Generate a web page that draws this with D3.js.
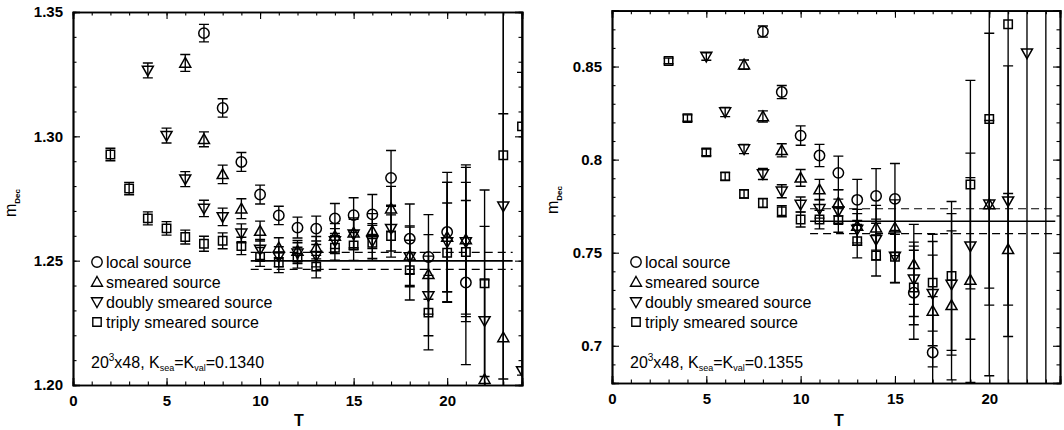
<!DOCTYPE html>
<html><head><meta charset="utf-8">
<script src="https://cdn.jsdelivr.net/npm/d3@7"></script>
<style>body{margin:0;background:#fff}svg{display:block}</style>
</head><body>
<svg id="c" width="1064" height="430"></svg>
<script>
// ---------- data: left panel (K=0.1340) ----------
const L_localT = [7,8,9,10,11,12,13,14,15,16,17,18,19,20,21];
const L_localM = [1.3415,1.3114,1.2897,1.2766,1.2682,1.2633,1.2629,1.2670,1.2683,1.2686,1.2833,1.2588,1.2515,1.2615,1.2412];
const L_localE = [0.0035,0.0037,0.0038,0.0038,0.0037,0.0042,0.0050,0.0060,0.0070,0.0080,0.0110,0.0140,0.0170,0.0240,0.0330];

const L_smearT = [6,7,8,9,10,11,12,13,14,15,16,17,18,19,20,21,22,23];
const L_smearM = [1.3295,1.2988,1.2847,1.2709,1.2619,1.2552,1.2539,1.2552,1.2599,1.2612,1.2619,1.2709,1.2520,1.2445,1.2595,1.2585,1.2023,1.2191];
const L_smearE = [0.0034,0.0030,0.0037,0.0040,0.0040,0.0040,0.0042,0.0045,0.0050,0.0060,0.0070,0.0090,0.0120,0.0160,0.0220,0.0300,0.0400,0.0900];

const L_doubleT = [4,5,6,7,8,9,10,11,12,13,14,15,16,17,18,19,20,21,22,23,24];
const L_doubleM = [1.3265,1.3003,1.2828,1.2710,1.2676,1.2610,1.2545,1.2516,1.2530,1.2520,1.2579,1.2606,1.2579,1.2629,1.2515,1.2358,1.2575,1.2575,1.2258,1.2719,1.2057];
const L_doubleE = [0.0030,0.0030,0.0030,0.0033,0.0035,0.0038,0.0040,0.0040,0.0042,0.0045,0.0050,0.0060,0.0070,0.0090,0.0120,0.0160,0.0240,0.0300,0.0380,0.0800,0.1200];

const L_tripleT = [2,3,4,5,6,7,8,9,10,11,12,13,14,15,16,17,18,19,20,21,22,23,24];
const L_tripleM = [1.2927,1.2790,1.2670,1.2630,1.2595,1.2568,1.2580,1.2559,1.2515,1.2492,1.2512,1.2476,1.2552,1.2561,1.2572,1.2599,1.2462,1.2291,1.2532,1.2535,1.2409,1.2924,1.3040];
const L_tripleE = [0.0025,0.0025,0.0026,0.0027,0.0028,0.0030,0.0032,0.0035,0.0038,0.0040,0.0042,0.0045,0.0050,0.0060,0.0070,0.0085,0.0120,0.0150,0.0200,0.0280,0.0375,0.0900,0.1000];

const L_fit = [1.2499, 0.0034];      // central value, error
const L_fitRange = [9.5, 23.5];

// ---------- data: right panel (K=0.1355) ----------
const R_localT = [8,9,10,11,12,13,14,15,16,17];
const R_localM = [0.8688,0.8363,0.8129,0.8022,0.7929,0.7784,0.7805,0.7789,0.7285,0.6964];
const R_localE = [0.0030,0.0035,0.0052,0.0060,0.0090,0.0110,0.0147,0.0190,0.0250,0.0300];

const R_smearT = [7,8,9,10,11,12,13,14,15,16,17,18,19,20,21];
const R_smearM = [0.8510,0.8232,0.8050,0.7902,0.7839,0.7768,0.7643,0.7634,0.7634,0.7437,0.7187,0.7217,0.7353,0.7759,0.7518];
const R_smearE = [0.0025,0.0030,0.0035,0.0045,0.0055,0.0070,0.0090,0.0120,0.0150,0.0215,0.0300,0.0400,0.0550,0.0920,0.0300];

const R_doubleT = [5,6,7,8,9,10,11,12,13,14,15,16,17,18,19,20,21,22];
const R_doubleM = [0.8554,0.8256,0.8057,0.7923,0.7830,0.7759,0.7736,0.7723,0.7625,0.7570,0.7480,0.7357,0.7280,0.7330,0.7535,0.7760,0.7777,0.8572];
const R_doubleE = [0.0020,0.0025,0.0025,0.0030,0.0035,0.0040,0.0050,0.0065,0.0085,0.0110,0.0140,0.0200,0.0280,0.0380,0.0500,0.0450,0.0727,0.2000];

const R_tripleT = [3,4,5,6,7,8,9,10,11,12,13,14,15,16,17,18,19,20,21,23];
const R_tripleM = [0.8530,0.8223,0.8039,0.7910,0.7816,0.7767,0.7723,0.7678,0.7678,0.7675,0.7562,0.7485,0.7478,0.7313,0.7339,0.7375,0.7866,0.8218,0.8727,0.9200];
const R_tripleE = [0.0015,0.0017,0.0018,0.0020,0.0022,0.0025,0.0030,0.0040,0.0050,0.0065,0.0090,0.0110,0.0140,0.0200,0.0260,0.0400,0.0560,0.1000,0.2000,0.3000];

const R_fit = [0.7669, 0.0067];
const R_fitRange = [10.5, 23.5];

// ---------- ticks / labels ----------
const xTicks = [0,5,10,15,20];
const xTickLabels = ["0","5","10","15","20"];
const L_yTicks = [1.20,1.25,1.30,1.35];
const L_yTickLabels = ["1.20","1.25","1.30","1.35"];
const R_yTicks = [0.70,0.75,0.80,0.85];
const R_yTickLabels = ["0.7","0.75","0.8","0.85"];
const legendLabels = ["local source","smeared source","doubly smeared source","triply smeared source"];
const symbols = ["circle","up","down","square"];

const svg = d3.select("#c");
const FONT = "'Liberation Sans', Arial, Helvetica, sans-serif";

function symPath(kind) {
  if (kind === "circle") return "M5.2,0A5.2,5.2 0 1,1 -5.2,0A5.2,5.2 0 1,1 5.2,0Z";
  if (kind === "up") return "M0,-5.5L5.5,4.2L-5.5,4.2Z";
  if (kind === "down") return "M0,5.5L5.5,-4.2L-5.5,-4.2Z";
  return "M-4.2,-4.2H4.2V4.2H-4.2Z";
}

function panel(cfg) {
  const x = d3.scaleLinear().domain(cfg.xDom).range(cfg.xRange);
  const y = d3.scaleLinear().domain(cfg.yDom).range(cfg.yRange);
  const g = svg.append("g");
  const id = "clip" + cfg.id;
  svg.append("clipPath").attr("id", id).append("rect")
    .attr("x", cfg.xRange[0]).attr("y", cfg.yRange[1])
    .attr("width", cfg.xRange[1]-cfg.xRange[0]).attr("height", cfg.yRange[0]-cfg.yRange[1]);

  // axes
  const xMinor = d3.range(cfg.xDom[0], cfg.xDom[1]+0.001, 1);
  const yMinor = d3.range(Math.round(cfg.yDom[0]*100), Math.round(cfg.yDom[1]*100)+1).map(v => v/100);
  const ax = g.append("g").attr("class","axes");
  const b = cfg.yRange[0], t = cfg.yRange[1], l = cfg.xRange[0], r = cfg.xRange[1];
  ax.append("g").attr("transform",`translate(0,${b})`)
    .call(d3.axisBottom(x).tickValues(xTicks).tickFormat((d,i)=>xTickLabels[i]).tickSize(-7).tickPadding(10));
  ax.append("g").attr("transform",`translate(0,${b})`)
    .call(d3.axisBottom(x).tickValues(xMinor).tickFormat("").tickSize(-3.5));
  ax.append("g").attr("transform",`translate(0,${t})`)
    .call(d3.axisTop(x).tickValues(xTicks).tickFormat("").tickSize(-7));
  ax.append("g").attr("transform",`translate(0,${t})`)
    .call(d3.axisTop(x).tickValues(xMinor).tickFormat("").tickSize(-3.5));
  ax.append("g").attr("transform",`translate(${l},0)`)
    .call(d3.axisLeft(y).tickValues(cfg.yTicks).tickFormat((d,i)=>cfg.yLabels[i]).tickSize(-7).tickPadding(10));
  ax.append("g").attr("transform",`translate(${l},0)`)
    .call(d3.axisLeft(y).tickValues(yMinor).tickFormat("").tickSize(-3.5));
  ax.append("g").attr("transform",`translate(${r},0)`)
    .call(d3.axisRight(y).tickValues(cfg.yTicks).tickFormat("").tickSize(-7));
  ax.append("g").attr("transform",`translate(${r},0)`)
    .call(d3.axisRight(y).tickValues(yMinor).tickFormat("").tickSize(-3.5));
  ax.selectAll("path.domain").attr("stroke","#000").attr("stroke-width",1.7);
  ax.selectAll(".tick line").attr("stroke","#000").attr("stroke-width",1.1);
  ax.selectAll(".tick text").attr("font-family",FONT).attr("font-size",15).attr("font-weight","bold").attr("fill","#000");

  // fit lines
  const fg = g.append("g").attr("clip-path",`url(#${id})`);
  const [c, e] = cfg.fit;
  [[c,"none",1.7],[c+e,"8,5",1.2],[c-e,"8,5",1.2]].forEach(([v,da,w]) => {
    fg.append("line").attr("x1",x(cfg.fitRange[0])).attr("x2",x(cfg.fitRange[1]))
      .attr("y1",y(v)).attr("y2",y(v)).attr("stroke","#000").attr("stroke-width",w)
      .attr("stroke-dasharray",da);
  });

  // series
  const mg = g.append("g").attr("clip-path",`url(#${id})`);
  cfg.series.forEach((s, si) => {
    const data = s.T.map((tt,i)=>({t:tt,m:s.M[i],e:s.E[i]}));
    const sg = mg.append("g");
    sg.selectAll("path.eb").data(data).join("path").attr("class","eb")
      .attr("d", d => {
        const xx = x(d.t), y1 = y(d.m+d.e), y2 = y(d.m-d.e);
        return `M${xx},${y1}V${y2}M${xx-5},${y1}H${xx+5}M${xx-5},${y2}H${xx+5}`;
      })
      .attr("fill","none").attr("stroke","#000").attr("stroke-width",1.35);
    sg.selectAll("path.sym").data(data).join("path").attr("class","sym")
      .attr("transform", d => `translate(${x(d.t)},${y(d.m)})`)
      .attr("d", symPath(symbols[si]))
      .attr("fill","none").attr("stroke","#000").attr("stroke-width",1.5);
  });

  // legend
  const lg = g.append("g");
  legendLabels.forEach((lab,i) => {
    const yy = cfg.legY + i*20;
    lg.append("path").attr("transform",`translate(${cfg.legX},${yy})`)
      .attr("d", symPath(symbols[i])).attr("fill","none").attr("stroke","#000").attr("stroke-width",1.4);
    lg.append("text").attr("x",cfg.legX+9).attr("y",yy+5.5).text(lab)
      .attr("font-family",FONT).attr("font-size",16).attr("fill","#000");
  });

  // annotation
  const an = g.append("text").attr("x",cfg.legX-6).attr("y",cfg.legY+106)
    .attr("font-family",FONT).attr("font-size",16).attr("fill","#000");
  an.append("tspan").text("20");
  an.append("tspan").text("3").attr("font-size",10).attr("dy",-7);
  an.append("tspan").text("x48, K").attr("dy",7);
  an.append("tspan").text("sea").attr("font-size",9).attr("dy",3);
  an.append("tspan").text("=K").attr("dy",-3);
  an.append("tspan").text("val").attr("font-size",9).attr("dy",3);
  an.append("tspan").text("=" + cfg.kappa).attr("dy",-3);

  // axis titles
  g.append("text").attr("x",(l+r)/2 + cfg.tX).attr("y",426).attr("text-anchor","middle")
    .attr("font-family",FONT).attr("font-size",16).attr("font-weight","bold").text("T");
  const yl = g.append("text").attr("transform",`translate(${cfg.mX},${cfg.mY}) rotate(-90)`)
    .attr("font-family",FONT).attr("font-size",16).attr("fill","#000");
  yl.append("tspan").text("m");
  yl.append("tspan").text("Dec").attr("font-size",8).attr("font-weight","bold").attr("dy",4);
}

panel({id:"L", xDom:[0,24], xRange:[73,522], yDom:[1.20,1.35], yRange:[385,12],
  yTicks:L_yTicks, yLabels:L_yTickLabels, fit:L_fit, fitRange:L_fitRange,
  series:[{T:L_localT,M:L_localM,E:L_localE},{T:L_smearT,M:L_smearM,E:L_smearE},
          {T:L_doubleT,M:L_doubleM,E:L_doubleE},{T:L_tripleT,M:L_tripleM,E:L_tripleE}],
  legX:97, legY:262, kappa:"0.1340", tX:1.5, mX:16, mY:217});

panel({id:"R", xDom:[0,23.75], xRange:[612,1060], yDom:[0.68,0.88], yRange:[383,10.7],
  yTicks:R_yTicks, yLabels:R_yTickLabels, fit:R_fit, fitRange:R_fitRange,
  series:[{T:R_localT,M:R_localM,E:R_localE},{T:R_smearT,M:R_smearM,E:R_smearE},
          {T:R_doubleT,M:R_doubleM,E:R_doubleE},{T:R_tripleT,M:R_tripleM,E:R_tripleE}],
  legX:636, legY:262, kappa:"0.1355", tX:3, mX:558, mY:214});
</script>
</body></html>
